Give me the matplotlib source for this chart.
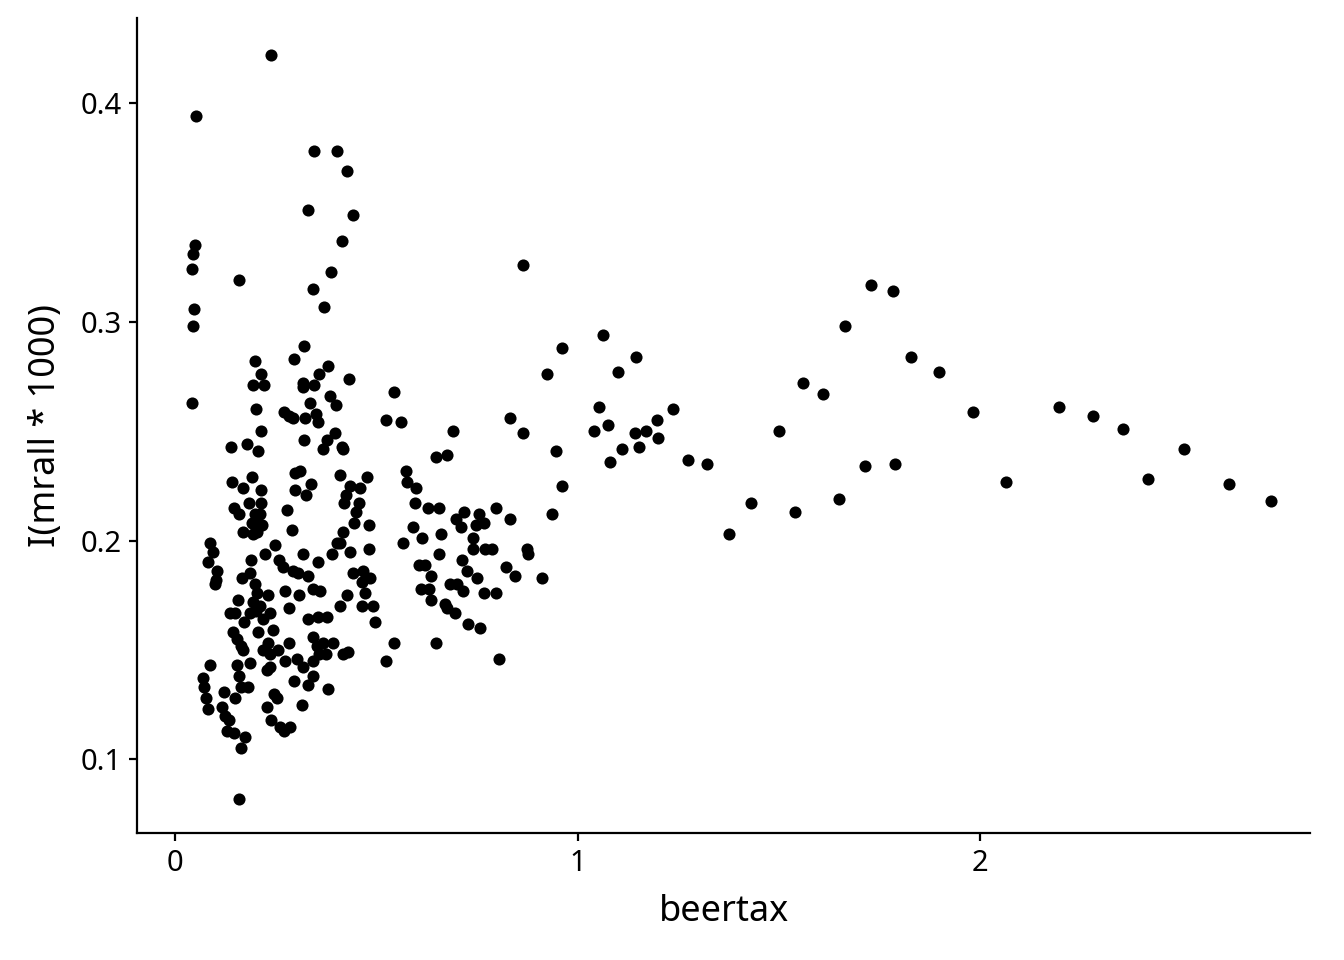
import matplotlib
matplotlib.use("Agg")
import matplotlib.pyplot as plt

# значення (beertax, mrall*1000)
beertax = [
    # верхні/розкидані точки
    0.239, 0.052, 0.345, 0.402, 0.427, 0.330, 0.442, 0.415, 0.050, 0.045, 0.042, 0.388,
    0.159, 0.343, 0.370, 0.047, 0.045, 0.042,
    # права частина
    1.063, 0.961, 1.145, 1.101, 0.924, 1.560, 1.610, 1.053, 1.237, 1.076, 1.197, 1.041,
    1.143, 1.170, 1.200, 1.500, 0.946, 1.111, 1.153, 1.081, 1.274, 1.322, 0.961, 1.431,
    1.541, 0.937, 1.376, 0.912, 1.650, 1.665, 0.865, 1.729, 1.784, 1.714, 1.789, 1.829,
    1.898, 1.983, 2.065, 2.196, 2.281, 2.355, 2.417, 2.507, 2.619, 2.723,
    # середній кластер
    0.544, 0.524, 0.561, 0.832, 0.865, 0.691, 0.648, 0.676, 0.574,
    0.576, 0.599, 0.596, 0.629, 0.656, 0.798, 0.718, 0.698, 0.711, 0.755, 0.748, 0.768, 0.832,
    0.591, 0.614, 0.661, 0.566, 0.656, 0.740, 0.740, 0.770, 0.788, 0.875, 0.877,
    0.713, 0.606, 0.621, 0.822, 0.845, 0.725, 0.750, 0.636,
    0.611, 0.631, 0.636, 0.683, 0.701, 0.716, 0.768, 0.798, 0.671, 0.676, 0.696,
    0.728, 0.758, 0.544, 0.524, 0.648, 0.805,
    # лівий кластер, верх
    0.320, 0.296, 0.199, 0.380, 0.358, 0.214, 0.194, 0.221, 0.318, 0.318, 0.345, 0.432,
    0.385, 0.400, 0.201, 0.335, 0.271, 0.293, 0.283, 0.323, 0.350, 0.355, 0.214, 0.320,
    0.398, 0.378, 0.368, 0.415, 0.417, 0.179, 0.139, 0.206,
    0.298, 0.311, 0.338, 0.298, 0.325, 0.410, 0.477, 0.435, 0.460, 0.425, 0.420, 0.457,
    0.450, 0.445, 0.482, 0.278, 0.291,
    0.142, 0.191, 0.169, 0.214, 0.184, 0.214, 0.147, 0.159, 0.199, 0.211, 0.191, 0.206,
    0.216, 0.169, 0.194, 0.204,
    0.417, 0.410, 0.435, 0.482, 0.402,
    0.087, 0.094, 0.082, 0.104, 0.189, 0.224, 0.248, 0.258, 0.268, 0.318, 0.355, 0.390,
    0.293, 0.306, 0.330, 0.442, 0.467, 0.484, 0.166, 0.102,
    # лівий кластер, низ
    0.099, 0.186, 0.343, 0.360, 0.465,
    0.199, 0.204, 0.231, 0.273, 0.308, 0.157, 0.194, 0.211, 0.201, 0.186, 0.137, 0.149,
    0.236, 0.283, 0.219, 0.171, 0.330, 0.355, 0.378, 0.472, 0.427, 0.410, 0.465, 0.492,
    0.497,
    0.144, 0.154, 0.206, 0.243, 0.231, 0.219, 0.236, 0.256, 0.273, 0.283, 0.343, 0.353,
    0.368, 0.393, 0.417, 0.430, 0.358, 0.375, 0.343, 0.303, 0.318, 0.164, 0.169,
    0.087, 0.154, 0.186, 0.229, 0.236, 0.159, 0.164, 0.181, 0.070, 0.072, 0.296, 0.330,
    0.343, 0.380,
    0.122, 0.149, 0.077, 0.082, 0.117, 0.124, 0.134, 0.129, 0.147, 0.174, 0.164, 0.246,
    0.253, 0.229, 0.316, 0.239, 0.261, 0.271, 0.286, 0.159,
]

mrall = [
    0.422, 0.394, 0.378, 0.378, 0.369, 0.351, 0.349, 0.337, 0.335, 0.331, 0.324, 0.323,
    0.319, 0.315, 0.307, 0.306, 0.298, 0.263,
    0.294, 0.288, 0.284, 0.277, 0.276, 0.272, 0.267, 0.261, 0.260, 0.253, 0.255, 0.250,
    0.249, 0.250, 0.247, 0.250, 0.241, 0.242, 0.243, 0.236, 0.237, 0.235, 0.225, 0.217,
    0.213, 0.212, 0.203, 0.183, 0.219, 0.298, 0.326, 0.317, 0.314, 0.234, 0.235, 0.284,
    0.277, 0.259, 0.227, 0.261, 0.257, 0.251, 0.228, 0.242, 0.226, 0.218,
    0.268, 0.255, 0.254, 0.256, 0.249, 0.250, 0.238, 0.239, 0.232,
    0.227, 0.224, 0.217, 0.215, 0.215, 0.215, 0.213, 0.210, 0.206, 0.212, 0.207, 0.208, 0.210,
    0.206, 0.201, 0.203, 0.199, 0.194, 0.201, 0.196, 0.196, 0.196, 0.196, 0.194,
    0.191, 0.189, 0.189, 0.188, 0.184, 0.186, 0.183, 0.184,
    0.178, 0.178, 0.173, 0.180, 0.180, 0.177, 0.176, 0.176, 0.171, 0.169, 0.167,
    0.162, 0.160, 0.153, 0.145, 0.153, 0.146,
    0.289, 0.283, 0.282, 0.280, 0.276, 0.276, 0.271, 0.271, 0.272, 0.270, 0.271, 0.274,
    0.266, 0.262, 0.260, 0.263, 0.259, 0.256, 0.257, 0.256, 0.258, 0.254, 0.250, 0.246,
    0.249, 0.246, 0.242, 0.243, 0.242, 0.244, 0.243, 0.241,
    0.231, 0.232, 0.226, 0.223, 0.221, 0.230, 0.229, 0.225, 0.224, 0.221, 0.217, 0.217,
    0.213, 0.208, 0.207, 0.214, 0.205,
    0.227, 0.229, 0.224, 0.223, 0.217, 0.217, 0.215, 0.212, 0.212, 0.212, 0.208, 0.207,
    0.207, 0.204, 0.203, 0.204,
    0.204, 0.199, 0.195, 0.196, 0.199,
    0.199, 0.195, 0.190, 0.186, 0.191, 0.194, 0.198, 0.191, 0.188, 0.194, 0.190, 0.194,
    0.186, 0.185, 0.184, 0.185, 0.186, 0.183, 0.183, 0.182,
    0.180, 0.185, 0.178, 0.177, 0.181,
    0.180, 0.176, 0.175, 0.177, 0.175, 0.173, 0.172, 0.170, 0.168, 0.167, 0.167, 0.167,
    0.167, 0.169, 0.164, 0.163, 0.164, 0.165, 0.165, 0.176, 0.175, 0.170, 0.170, 0.170,
    0.163,
    0.158, 0.155, 0.158, 0.159, 0.153, 0.150, 0.148, 0.150, 0.145, 0.153, 0.156, 0.152,
    0.153, 0.153, 0.148, 0.149, 0.148, 0.148, 0.145, 0.146, 0.142, 0.152, 0.150,
    0.143, 0.143, 0.144, 0.141, 0.142, 0.138, 0.133, 0.133, 0.137, 0.133, 0.136, 0.134,
    0.138, 0.132,
    0.131, 0.128, 0.128, 0.123, 0.124, 0.120, 0.118, 0.113, 0.112, 0.110, 0.105, 0.130,
    0.128, 0.124, 0.125, 0.118, 0.115, 0.113, 0.115, 0.082,
]

plt.rcParams['font.family'] = ['Noto Sans', 'DejaVu Sans']

fig = plt.figure(figsize=(6.72, 4.8), dpi=200)
ax = fig.add_axes([0.102, 0.132, 0.873, 0.849])

ax.scatter(beertax, mrall, s=19, color="black", linewidths=0)

ax.set_xlim(-0.094, 2.82)
ax.set_ylim(0.0662, 0.4388)
ax.set_xticks([0, 1, 2])
ax.set_yticks([0.1, 0.2, 0.3, 0.4])
ax.set_xticklabels(["0", "1", "2"])
ax.set_yticklabels(["0.1", "0.2", "0.3", "0.4"])

for side in ["top", "right"]:
    ax.spines[side].set_visible(False)
for side in ["left", "bottom"]:
    ax.spines[side].set_linewidth(0.8)

ax.tick_params(axis="both", length=3, width=0.8, labelsize=10.5, colors="black", pad=2.5)
ax.set_xlabel("beertax", fontsize=13, labelpad=6)
ax.set_ylabel("I(mrall * 1000)", fontsize=13, labelpad=6)

fig.savefig("out.png", dpi=200)
